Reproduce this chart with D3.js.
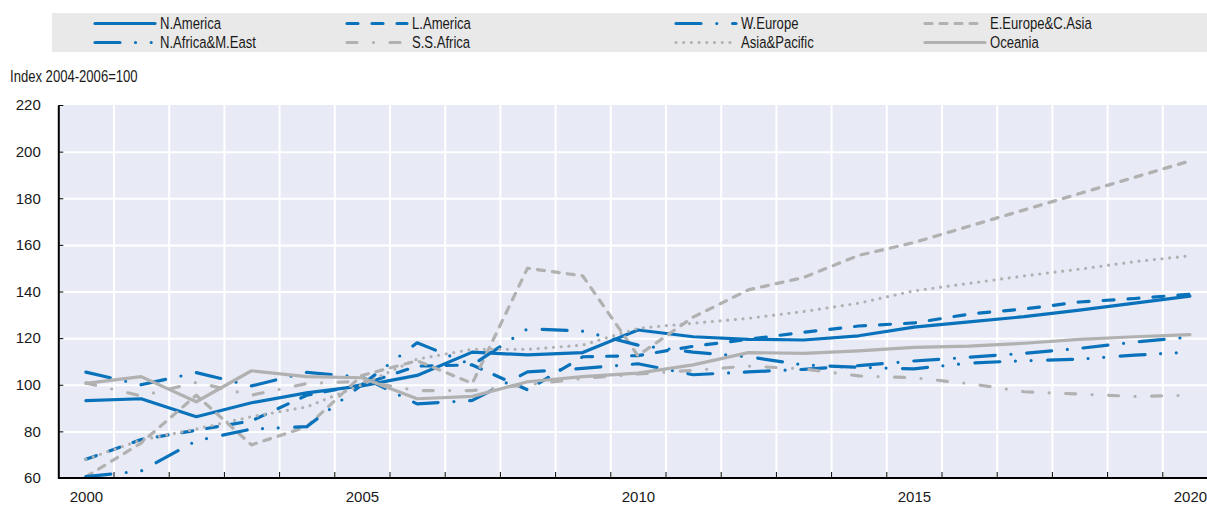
<!DOCTYPE html>
<html>
<head>
<meta charset="utf-8">
<script src="https://cdn.jsdelivr.net/npm/d3@7"></script>
<style>
	body { margin: 0; background: #fff; }
	svg { display: block; font-family: "Liberation Sans", Arial, sans-serif; }
	.axis path, .axis line { stroke: #000; }
	.grid line { stroke: #fff; stroke-width: 2; }
	.grid path { display: none; }
	.series path { fill: none; stroke-linejoin: round; stroke-linecap: round; stroke-width: 3.2; }
</style>
</head>
<body>
<svg id="chart" width="1207" height="507"></svg>
<script>
/*********************************************************\
* Index 2004-2006=100, by region                          *
\*********************************************************/

var years = [2000, 2001, 2002, 2003, 2004, 2005, 2006, 2007, 2008, 2009, 2010,
	2011, 2012, 2013, 2014, 2015, 2016, 2017, 2018, 2019, 2020];
var yearLabels = [2000, 2005, 2010, 2015, 2020];
var yTicks = [60, 80, 100, 120, 140, 160, 180, 200, 220];

var nAmerica     = [93.2, 94, 86.3, 92.3, 96.5, 99.5, 104, 114, 112.8, 113.8, 123.5,
	120.6, 119.5, 119.2, 121, 124.7, 127, 129.2, 132, 135, 138];
var lAmerica     = [68, 76.5, 80.5, 84.5, 95.5, 100, 108, 108.5, 97.8, 112, 112.5,
	116.5, 119.5, 122.5, 125.2, 126.5, 130.3, 132.5, 135.5, 137, 138.8];
var wEurope      = [105.4, 100, 105.2, 99.5, 105.3, 103.3, 91.8, 93.3, 105.5, 107, 109,
	104.3, 105.5, 106.6, 108.2, 110.2, 111.8, 113.5, 115.6, 118.3, 120.5];
var eEuropeCAsia = [60.5, 75, 95.5, 74.2, 82, 104, 110.3, 100.6, 150, 146.7, 112.5,
	129, 140.7, 146, 155.5, 161, 168, 175, 182, 189, 196];
var nAfricaMEast = [60.6, 63, 76, 81, 82, 100, 118, 108.5, 124, 123, 117,
	114, 112, 108.5, 107.5, 106.8, 109.3, 110.3, 111, 112.7, 114];
var ssAfrica     = [100.8, 95.2, 101, 95.5, 100.5, 101.5, 97.5, 97.5, 100, 102.7, 104.6,
	106.2, 108, 106.8, 103.8, 103, 100.5, 97, 96, 95, 95.5];
var asiaPacific  = [68, 76.3, 81, 86.3, 90.5, 100, 111, 115.2, 115.2, 117, 124.2,
	126.4, 128.5, 131.4, 135, 140.3, 143.5, 146.7, 149.6, 152.8, 155.3];
var oceania      = [100.6, 103.5, 92.7, 106, 103.5, 103, 94, 95, 101.3, 103.5, 105,
	108.5, 113.8, 113.5, 114.5, 116, 116.6, 117.8, 119.5, 120.6, 121.5];

var names = ['N.America', 'L.America', 'W.Europe', 'E.Europe&C.Asia',
	'N.Africa&M.East', 'S.S.Africa', 'Asia&Pacific', 'Oceania'];
var seriesValues = [nAmerica, lAmerica, wEurope, eEuropeCAsia,
	nAfricaMEast, ssAfrica, asiaPacific, oceania];

var BLUE = '#0a72bb', GRAY = '#b1b1b1';
var styles = [
	{ color: BLUE, dash: null },
	{ color: BLUE, dash: '11,14' },
	{ color: BLUE, dash: '25,15.8,0,15.8' },
	{ color: GRAY, dash: '7,8' },
	{ color: BLUE, dash: '25,15.5,0,15.7,0,16.5' },
	{ color: GRAY, dash: '10,16.5,0,16.5' },
	{ color: GRAY, dash: '0,7.7' },
	{ color: GRAY, dash: null }
];

//- - - - - - - - - - - - - - - - - - - - - - - - - - - - - - - - - - - - - - - 

var svg = d3.select('#chart');
var plotLeft = 58.3, plotTop = 105, plotBottom = 478, step = 55.2;
var squeeze = 0.77;	// narrow the text like the condensed original

var x = d3.scalePoint()
	.domain(years)
	.range([plotLeft, plotLeft + step * years.length])
	.padding(0.5);
var xEdge = d3.scaleLinear()
	.domain([years[0], years[1]])
	.range([x(years[0]), x(years[1])]);
var y = d3.scaleLinear()
	.domain([60, 220])
	.range([plotBottom, plotTop]);

var edges = years.slice(0, -1).map(function (d) { return d + 0.5; });

// plot background and grid
svg.append('rect')
	.attr('x', plotLeft).attr('y', plotTop)
	.attr('width', step * years.length).attr('height', plotBottom - plotTop)
	.attr('fill', '#e8ebf6')
;

svg.append('g')
	.attr('class', 'grid')
	.attr('transform', 'translate(0,' + plotBottom + ')')
	.call(d3.axisBottom(xEdge).tickValues(edges).tickSize(-(plotBottom - plotTop)).tickFormat(''))
;

svg.append('g')
	.attr('class', 'grid')
	.attr('transform', 'translate(' + plotLeft + ',0)')
	.call(d3.axisLeft(y).tickValues(yTicks.slice(1, -1)).tickSize(-step * years.length).tickFormat(''))
;

// lines
var line = d3.line()
	.x(function (d, i) { return x(years[i]); })
	.y(function (d) { return y(d); });

svg.append('g')
	.attr('class', 'series')
	.selectAll('path')
	.data(seriesValues)
	.enter()
	.append('path')
	.attr('d', line)
	.attr('stroke', function (d, i) { return styles[i].color; })
	.attr('stroke-dasharray', function (d, i) { return styles[i].dash; })
;

// axes
var yAxis = svg.append('g')
	.attr('class', 'axis')
	.attr('transform', 'translate(' + plotLeft + ',0)')
	.call(d3.axisLeft(y).tickValues(yTicks).tickSizeInner(-5).tickSizeOuter(0).tickPadding(17.5))
;
yAxis.select('.domain').attr('stroke-width', 2);
yAxis.selectAll('text').attr('font-size', 15).attr('fill', '#1a1a1a').attr('font-family', null);

var xTicks = svg.append('g')
	.attr('class', 'axis')
	.attr('transform', 'translate(0,' + plotBottom + ')')
	.call(d3.axisBottom(xEdge).tickValues(edges).tickSizeInner(-6).tickSizeOuter(0).tickFormat(''))
;
xTicks.select('.domain')
	.attr('d', 'M' + plotLeft + ',0H1207')
	.attr('stroke-width', 2)
;

var xLabels = svg.append('g')
	.attr('transform', 'translate(0,' + plotBottom + ')')
	.call(d3.axisBottom(x).tickValues(yearLabels).tickSize(0).tickPadding(13))
;
xLabels.select('.domain').remove();
xLabels.selectAll('text').attr('font-size', 15).attr('fill', '#1a1a1a').attr('font-family', null);

svg.append('text')
	.attr('transform', 'translate(10,82) scale(' + squeeze + ',1)')
	.attr('font-size', 17).attr('fill', '#1a1a1a')
	.text('Index 2004-2006=100')
;

//- - - - - - - - - - - - - - - - - - - - - - - - - - - - - - - - - - - - - - - 

// legend
svg.append('rect')
	.attr('x', 52).attr('y', 13)
	.attr('width', 1155).attr('height', 39)
	.attr('fill', '#e9e9e9')
;

var colX = [95, 347, 676, 925], rowY = [23.5, 42.5];

var items = svg.append('g')
	.attr('class', 'series')
	.selectAll('g')
	.data(names)
	.enter()
	.append('g')
	.attr('transform', function (d, i) {
		return 'translate(' + colX[i % 4] + ',' + rowY[Math.floor(i / 4)] + ')';
	})
;

items.append('path')
	.attr('d', 'M0,0H60')
	.attr('stroke', function (d, i) { return styles[i].color; })
	.attr('stroke-dasharray', function (d, i) { return styles[i].dash; })
;

items.append('text')
	.attr('transform', 'translate(65,0) scale(' + squeeze + ',1)')
	.attr('dy', '0.35em')
	.attr('font-size', 17).attr('fill', '#1a1a1a')
	.text(function (d) { return d; })
;
</script>
</body>
</html>
